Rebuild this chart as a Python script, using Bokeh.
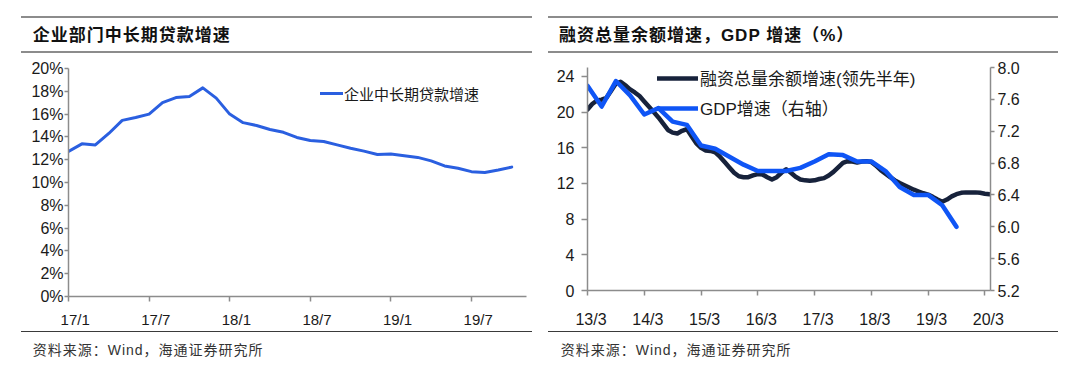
import numpy as np
from bokeh.plotting import figure
from bokeh.models import (Range1d, LinearAxis, FixedTicker, PrintfTickFormatter,
                          Legend, LegendItem, Div, Spacer)
from bokeh.layouts import row, column
from bokeh.embed import file_html
from bokeh.resources import INLINE

# ---------------- data ----------------
# left panel: corporate medium/long-term loan growth (%), monthly from 2017-01
loan_start = "2017-01"
loan_growth = [12.72, 13.39, 13.3, 14.3, 15.45, 15.7, 16.0, 17.0, 17.45, 17.55,
               18.3, 17.4, 16.0, 15.25, 15.0, 14.65, 14.4, 13.95, 13.68, 13.6,
               13.3, 13.0, 12.75, 12.45, 12.5, 12.35, 12.2, 11.9, 11.45, 11.25,
               10.95, 10.88, 11.1, 11.35]
loan_tick_labels = ["17/1", "17/7", "18/1", "18/7", "19/1", "19/7"]
loan_legend = "企业中长期贷款增速"

# right panel: TSF stock growth (%, led half a year), monthly from 2013-03
tsf_start = "2013-03"
tsf_growth = [20.3, 20.9, 21.3, 21.4, 21.6, 22.4, 23.2, 23.4, 23.0, 22.55,
              22.2, 21.8, 21.2, 20.6, 20.0, 19.4, 18.7, 18.0, 17.7, 17.6,
              17.9, 18.1, 17.3, 16.5, 16.0, 15.7, 15.65, 15.5, 15.0, 14.4,
              13.8, 13.2, 12.8, 12.7, 12.7, 12.9, 13.05, 13.0, 12.7, 12.45,
              12.7, 13.2, 13.6, 13.2, 12.75, 12.45, 12.35, 12.3, 12.35, 12.5,
              12.6, 12.9, 13.3, 13.8, 14.3, 14.5, 14.45, 14.35, 14.45, 14.5,
              14.4, 14.0, 13.5, 13.1, 12.7, 12.35, 12.05, 11.8, 11.55, 11.3,
              11.1, 10.9, 10.75, 10.5, 10.2, 9.95, 10.2, 10.55, 10.8, 10.95,
              11.0, 11.0, 11.0, 10.95, 10.85, 10.8]
# GDP growth (%), quarterly from 2013-03 (right axis)
gdp_growth = [7.77, 7.51, 7.83, 7.65, 7.41, 7.49, 7.32, 7.28, 7.02, 6.98,
              6.88, 6.78, 6.70, 6.70, 6.70, 6.74, 6.82, 6.91, 6.90, 6.82,
              6.82, 6.70, 6.50, 6.40, 6.40, 6.27, 6.00]
macro_tick_labels = ["13/3", "14/3", "15/3", "16/3", "17/3", "18/3", "19/3", "20/3"]
tsf_legend = "融资总量余额增速(领先半年)"
gdp_legend = "GDP增速（右轴）"

title_left = "企业部门中长期贷款增速"
title_right = "融资总量余额增速，GDP 增速（%）"
source_text = "资料来源：Wind，海通证券研究所"

# ---------------- styles ----------------
AX = "#8c8c8c"
TXT = "#1a1a1a"
NUM_FONT = "Liberation Sans"
CJK = "Noto Sans CJK SC"
MIX = "'Liberation Sans', 'Noto Sans CJK SC'"


def style_axis(ax, size, tick_out=5, standoff=3):
    ax.axis_line_color = AX
    ax.axis_line_width = 1.5
    ax.major_tick_line_color = AX
    ax.major_tick_line_width = 1.5
    ax.minor_tick_line_color = None
    ax.major_tick_in = 0
    ax.major_tick_out = tick_out
    ax.major_label_standoff = standoff
    ax.major_label_text_font = NUM_FONT
    ax.major_label_text_font_size = size
    ax.major_label_text_color = TXT


def shifted_x_axis(p, ticks, labels, shift, size, standoff):
    """tick marks (drawn as minor ticks) at ticks, labels a little to the right (Excel style)."""
    xa = p.xaxis[0]
    pos = [t + shift for t in ticks]
    xa.ticker = FixedTicker(ticks=pos, minor_ticks=ticks)
    xa.major_label_overrides = {float(k): v for k, v in zip(pos, labels)}
    style_axis(xa, size, tick_out=0, standoff=standoff)
    xa.major_tick_line_color = None
    xa.minor_tick_line_color = AX
    xa.minor_tick_line_width = 1.5
    xa.minor_tick_in = 0
    xa.minor_tick_out = 5


def header(title_html, col_w, rule_left, rule_w, text_left):
    return Div(text=(
        f'<div style="position:relative;width:{col_w}px;height:46px;">'
        f'<div style="position:absolute;left:{rule_left}px;top:7.7px;width:{rule_w}px;height:37px;'
        f'box-sizing:border-box;border-top:2px solid #8c8c8c;border-bottom:2px solid #8c8c8c;"></div>'
        f'<div style="position:absolute;left:{text_left}px;top:19px;white-space:nowrap;'
        f'font-family:{MIX};font-size:17px;font-weight:bold;letter-spacing:1px;'
        f'line-height:17px;color:#111;">{title_html}</div></div>'),
        width=col_w, height=46, margin=0)


def footer(col_w, rule_left, rule_w, text_left):
    return Div(text=(
        f'<div style="position:relative;width:{col_w}px;height:32px;">'
        f'<div style="position:absolute;left:{rule_left}px;top:1px;width:{rule_w}px;height:0;'
        f'border-top:1.5px solid #3a3a3a;"></div>'
        f'<div style="position:absolute;left:{text_left}px;top:13px;white-space:nowrap;'
        f'font-family:{MIX};font-size:14px;letter-spacing:1px;line-height:14px;color:#333;">'
        f'{source_text}</div></div>'),
        width=col_w, height=32, margin=0)


# ---------------- left panel ----------------
x_loan = np.arange(len(loan_growth))
p1 = figure(width=532, height=276, x_range=Range1d(0, 34.1), y_range=Range1d(0, 20),
            output_backend="svg", toolbar_location=None,
            min_border_left=60, min_border_right=14, min_border_top=14, min_border_bottom=34,
            outline_line_color=None, background_fill_color="white")
p1.grid.visible = False
r_loan = p1.line(x_loan, loan_growth, color="#2a5fe0", line_width=3,
                 line_join="round", line_cap="round")
p1.yaxis.ticker = FixedTicker(ticks=list(range(0, 21, 2)))
p1.yaxis.formatter = PrintfTickFormatter(format="%d%%")
style_axis(p1.yaxis[0], "16px", tick_out=4, standoff=1)
shifted_x_axis(p1, [6 * i for i in range(len(loan_tick_labels))], loan_tick_labels,
               0.5, "15px", 9)
leg1 = Legend(items=[LegendItem(label=loan_legend, renderers=[r_loan])],
              location=(252, 191), glyph_width=23, glyph_height=24, label_height=24,
              label_standoff=1, padding=0, margin=0, spacing=0,
              border_line_color=None, background_fill_alpha=0,
              label_text_font=CJK, label_text_font_size="15px", label_text_color=TXT)
p1.add_layout(leg1)

# ---------------- right panel ----------------
x_tsf = np.arange(len(tsf_growth))
x_gdp = np.arange(len(gdp_growth)) * 3
p2 = figure(width=532, height=276, x_range=Range1d(0, 85.2), y_range=Range1d(0, 25),
            output_backend="svg", toolbar_location=None,
            min_border_left=47, min_border_right=82, min_border_top=13, min_border_bottom=34,
            outline_line_color=None, background_fill_color="white")
p2.extra_y_ranges = {"gdp": Range1d(5.2, 8.0)}
p2.grid.visible = False
r_tsf = p2.line(x_tsf, tsf_growth, color="#17223b", line_width=4.5,
                line_join="round", line_cap="round")
r_gdp = p2.line(x_gdp, gdp_growth, y_range_name="gdp", color="#0f55f5", line_width=4.5,
                line_join="round", line_cap="round")
p2.yaxis.ticker = FixedTicker(ticks=list(range(0, 25, 4)))
style_axis(p2.yaxis[0], "16px", tick_out=6, standoff=7)
ax_r = LinearAxis(y_range_name="gdp",
                  ticker=FixedTicker(ticks=[round(5.2 + 0.4 * i, 1) for i in range(8)]),
                  formatter=PrintfTickFormatter(format="%.1f"))
style_axis(ax_r, "16px", tick_out=4, standoff=3)
p2.add_layout(ax_r, "right")
shifted_x_axis(p2, [12 * i for i in range(len(macro_tick_labels))], macro_tick_labels,
               0.75, "16px", 15)
leg2 = Legend(items=[LegendItem(label=tsf_legend, renderers=[r_tsf]),
                     LegendItem(label=gdp_legend, renderers=[r_gdp])],
              location=(70, 170), glyph_width=41, glyph_height=24, label_height=24,
              label_standoff=2, padding=0, margin=0, spacing=5,
              border_line_color=None, background_fill_alpha=0,
              label_text_font=MIX, label_text_font_size="17px", label_text_color=TXT)
p2.add_layout(leg2)

# ---------------- layout ----------------
left = column(header(title_left, 532, 12.7, 511, 24.7), p1,
              footer(532, 12.7, 511, 24.7), spacing=0)
right = column(header(title_right, 532, 7.6, 510, 18.9), p2,
               footer(532, 7.6, 510, 20.7), spacing=0)
layout = column(Spacer(width=1072, height=8),
                row(Spacer(width=8, height=354), left, right, spacing=0),
                spacing=0)

open("out.html", "w").write(file_html(layout, INLINE))
